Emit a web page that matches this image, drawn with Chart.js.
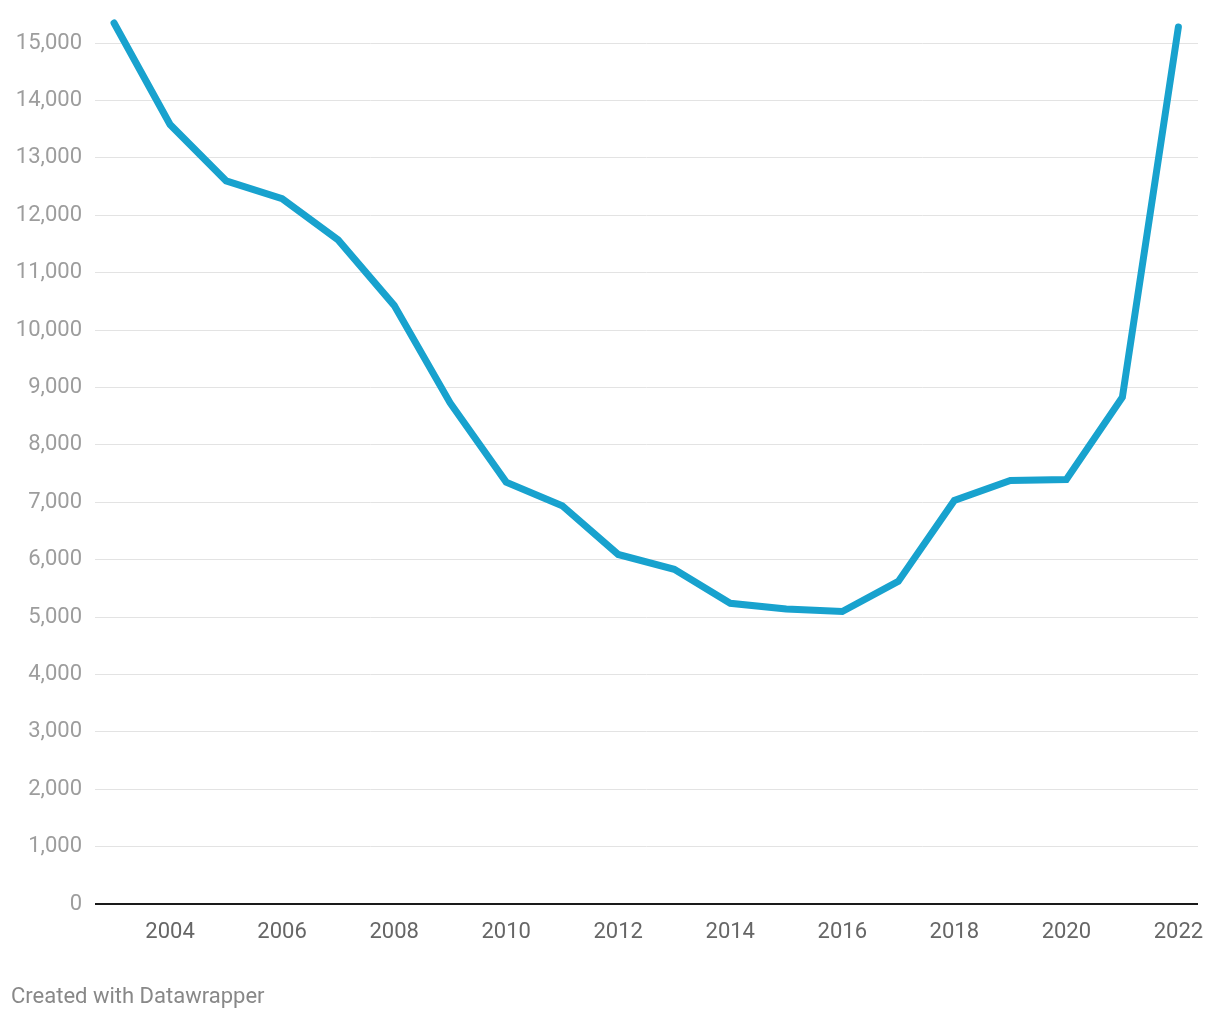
<!DOCTYPE html>
<html>
<head>
<meta charset="utf-8">
<script src="https://cdn.jsdelivr.net/npm/chart.js@4"></script>
<style>
  html, body { margin: 0; padding: 0; background: #ffffff; }
  #wrap { position: relative; width: 1220px; height: 1020px; }
  #credit { position: absolute; left: 11px; top: 983px; font-family: Roboto, sans-serif; font-size: 22px; line-height: 26px; color: #888888; white-space: nowrap; }
</style>
</head>
<body>
<div id="wrap">
  <canvas id="c" width="1220" height="1020"></canvas>
  <div id="credit">Created with Datawrapper</div>
</div>
<script>
const years = [2003, 2004, 2005, 2006, 2007, 2008, 2009, 2010, 2011, 2012, 2013, 2014, 2015, 2016, 2017, 2018, 2019, 2020, 2021, 2022];
const values = [15350, 13580, 12600, 12290, 11570, 10430, 8730, 7350, 6940, 6090, 5830, 5240, 5140, 5095, 5620, 7030, 7380, 7395, 8830, 15280];
const xTickYears = [2004, 2006, 2008, 2010, 2012, 2014, 2016, 2018, 2020, 2022];
const yTickValues = [0, 1000, 2000, 3000, 4000, 5000, 6000, 7000, 8000, 9000, 10000, 11000, 12000, 13000, 14000, 15000];

const points = years.map((y, i) => ({ x: y, y: values[i] }));

new Chart(document.getElementById('c'), {
  type: 'line',
  data: {
    datasets: [{
      data: points,
      borderColor: '#18a2ce',
      borderWidth: 7,
      borderCapStyle: 'round',
      borderJoinStyle: 'miter',
      pointRadius: 0,
      pointHoverRadius: 0,
      tension: 0,
      fill: false,
      clip: false
    }]
  },
  options: {
    responsive: false,
    animation: false,
    events: [],
    layout: { padding: { left: 0, right: 22, top: 0, bottom: 0 } },
    plugins: { legend: { display: false }, tooltip: { enabled: false } },
    scales: {
      x: {
        type: 'linear',
        min: 2002.66,
        max: 2022.35,
        afterBuildTicks: (axis) => { axis.ticks = xTickYears.map(v => ({ value: v })); },
        afterFit: (axis) => { axis.height = 116; axis.paddingLeft = 0; axis.paddingRight = 0; },
        grid: { display: false, drawTicks: false },
        border: { display: false },
        ticks: {
          color: '#666666',
          font: { family: 'Roboto', size: 22 },
          padding: 15,
          maxRotation: 0,
          autoSkip: false,
          callback: (v) => String(v)
        }
      },
      y: {
        type: 'linear',
        min: 0,
        max: 15750,
        afterBuildTicks: (axis) => { axis.ticks = yTickValues.map(v => ({ value: v })); },
        afterFit: (axis) => { axis.width = 95; axis.paddingTop = 0; axis.paddingBottom = 0; },
        grid: {
          drawTicks: false,
          color: (ctx) => (ctx.tick && ctx.tick.value === 0) ? '#1a1a1a' : '#e3e3e3',
          lineWidth: (ctx) => (ctx.tick && ctx.tick.value === 0) ? 2 : 1
        },
        border: { display: false },
        ticks: {
          color: '#9d9d9d',
          font: { family: 'Roboto', size: 22 },
          padding: 13,
          autoSkip: false,
          callback: (v) => v.toLocaleString('en-US')
        }
      }
    }
  }
});
</script>
</body>
</html>
